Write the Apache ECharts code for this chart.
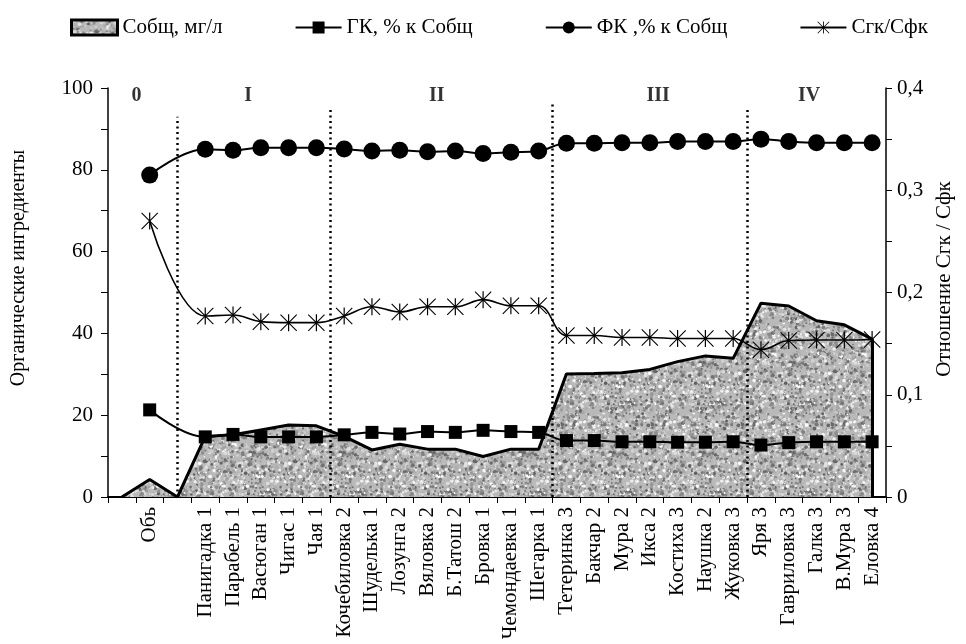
<!DOCTYPE html>
<html>
<head>
<meta charset="utf-8">
<script src="https://cdn.jsdelivr.net/npm/echarts@6/dist/echarts.min.js"></script>
<style>html,body{margin:0;padding:0;background:#fff}#chart{width:966px;height:644px}</style>
</head>
<body>
<div id="chart"></div>
<script>
// ---------- data ----------
const categories = ['', 'Обь', '', 'Панигадка 1', 'Парабель 1', 'Васюган 1', 'Чигас 1', 'Чая 1',
  'Кочебиловка 2', 'Шуделька 1', 'Лозунга 2', 'Вяловка 2', 'Б.Татош 2', 'Бровка 1', 'Чемондаевка 1', 'Шегарка 1',
  'Тетеринка 3', 'Бакчар 2', 'Мура 2', 'Икса 2', 'Костиха 3', 'Наушка 2', 'Жуковка 3',
  'Яря 3', 'Гавриловка 3', 'Галка 3', 'В.Мура 3', 'Еловка 4'];
const cTotal = [0, 4.3, 0, 14.8, 15.2, 16.4, 17.6, 17.4, 14.8, 11.5, 12.9, 11.7, 11.7, 9.9, 11.7, 11.7,
  30.1, 30.2, 30.4, 31.2, 33.1, 34.5, 33.9, 47.4, 46.7, 43.1, 42.1, 38.6];
const gkShare = [null, 21.3, null, 14.7, 15.3, 14.7, 14.7, 14.7, 15.2, 15.8, 15.4, 16.0, 15.8, 16.3, 16.0, 15.8,
  13.8, 13.8, 13.5, 13.5, 13.4, 13.4, 13.5, 12.7, 13.3, 13.5, 13.5, 13.5];
const fkShare = [null, 78.7, null, 85.0, 84.8, 85.4, 85.4, 85.4, 85.1, 84.6, 84.8, 84.4, 84.6, 84.0, 84.3, 84.6,
  86.5, 86.5, 86.6, 86.6, 86.9, 86.9, 86.9, 87.5, 86.9, 86.6, 86.6, 86.6];
const ratio = [null, 0.270, null, 0.177, 0.178, 0.1715, 0.1705, 0.1705, 0.177, 0.186, 0.181, 0.186, 0.186, 0.193, 0.187, 0.187,
  0.158, 0.158, 0.156, 0.156, 0.155, 0.155, 0.155, 0.144, 0.153, 0.1535, 0.1535, 0.154];
const seriesNames = ['Собщ, мг/л', 'ГК, % к Собщ', 'ФК ,% к Собщ', 'Сгк/Сфк'];
const sectionNames = ['0', 'I', 'II', 'III', 'IV'];
const sectionNameX = [1.03, 5.04, 11.83, 19.8, 25.23];
const sectionNameY = 98;
const dividerX = [2.5, 8, 16, 23];
const dividerTop = [93, 94.6, 96.3, 94.6];
const leftTitle = 'Органические ингредиенты';
const rightTitle = 'Отношение Сгк / Сфк';

// ---------- styling ----------
const FONT = '"Liberation Serif", "Times New Roman", serif';

// grainy grey fill texture (visual style only)
function makeTexture() {
  const size = 90;
  const c = document.createElement('canvas');
  c.width = size; c.height = size;
  const g = c.getContext('2d');
  g.fillStyle = '#b9b9b9';
  g.fillRect(0, 0, size, size);
  let s = 987654;
  const grain = () => { s = (s * 1103515245 + 12345) & 0x7fffffff; return s / 0x7fffffff; };
  for (let i = 0; i < 1400; i++) {
    const x = grain() * size, y = grain() * size, r = 0.5 + grain() * 1.5;
    const v = Math.floor(95 + grain() * 160);
    g.fillStyle = 'rgb(' + v + ',' + v + ',' + v + ')';
    for (const dx of [-size, 0, size]) for (const dy of [-size, 0, size]) {
      g.beginPath(); g.arc(x + dx, y + dy, r, 0, Math.PI * 2); g.fill();
    }
  }
  return c;
}
const texture = { image: makeTexture(), repeat: 'repeat' };

const starPath = 'path://M9.3,0L10.7,0L10.7,20L9.3,20Z M0,0.9L0.9,0L20,19.1L19.1,20Z M19.1,0L20,0.9L0.9,20L0,19.1Z';

const chart = echarts.init(document.getElementById('chart'), null, { renderer: 'canvas' });

const lastIdx = categories.length - 1;

const option = {
  animation: false,
  backgroundColor: '#fff',
  textStyle: { fontFamily: FONT, color: '#000' },
  grid: { left: 108, right: 80, top: 88, bottom: 147, containLabel: false },
  legend: {
    left: 65, top: 12,
    itemWidth: 46, itemHeight: 15, itemGap: 72,
    textStyle: { fontFamily: FONT, fontSize: 21, color: '#000' },
    data: [
      { name: seriesNames[0], icon: 'rect', itemStyle: { color: texture, borderColor: '#000', borderWidth: 3 } },
      seriesNames[1], seriesNames[2], seriesNames[3]
    ]
  },
  xAxis: [
    {
      type: 'category', data: categories, boundaryGap: true,
      axisLine: { lineStyle: { color: '#000', width: 2 } },
      axisTick: { show: true, inside: false, length: 6, lineStyle: { color: '#000', width: 1 } },
      axisLabel: { interval: 0, rotate: 90, color: '#000', fontFamily: FONT, fontSize: 21, margin: 10 },
      splitLine: { show: false }
    },
    { type: 'value', min: 0, max: categories.length, show: false, position: 'bottom' }
  ],
  yAxis: [
    {
      type: 'value', min: 0, max: 100, interval: 10, position: 'left',
      axisLine: { show: true, lineStyle: { color: '#000', width: 1.5 } },
      axisTick: { show: true, length: 7, lineStyle: { color: '#000' } },
      axisLabel: { color: '#000', fontFamily: FONT, fontSize: 21, margin: 15,
        formatter: v => (Math.round(v) % 20 === 0 ? String(Math.round(v)) : '') },
      splitLine: { show: false }
    },
    {
      type: 'value', min: 0, max: 0.4, interval: 0.05, position: 'right',
      axisLine: { show: true, lineStyle: { color: '#000', width: 1.5 } },
      axisTick: { show: true, length: 6, lineStyle: { color: '#000' } },
      axisLabel: { color: '#000', fontFamily: FONT, fontSize: 21, margin: 11,
        formatter: v => {
          const t = v * 10;
          if (Math.abs(t - Math.round(t)) > 1e-6) return '';
          return v === 0 ? '0' : (Math.round(t) / 10).toFixed(1).replace('.', ',');
        } },
      splitLine: { show: false }
    }
  ],
  graphic: [
    { type: 'text', x: 19, y: 268, rotation: Math.PI / 2,
      style: { text: leftTitle, font: '20px ' + FONT, fill: '#000', textAlign: 'center', textVerticalAlign: 'middle' } },
    { type: 'text', x: 944, y: 279, rotation: Math.PI / 2,
      style: { text: rightTitle, font: '21px ' + FONT, fill: '#000', textAlign: 'center', textVerticalAlign: 'middle' } }
  ],
  series: [
    {
      name: seriesNames[0], type: 'line', data: cTotal, xAxisIndex: 0, yAxisIndex: 0,
      symbol: 'none', smooth: false, z: 1,
      lineStyle: { color: '#000', width: 3 },
      itemStyle: { color: '#999' },
      areaStyle: { color: texture, opacity: 1 },
      markLine: {
        silent: true, symbol: 'none', label: { show: false },
        lineStyle: { color: '#000', width: 3, type: 'solid' },
        data: [[{ coord: [categories[lastIdx], 0] }, { coord: [categories[lastIdx], cTotal[lastIdx]] }]]
      }
    },
    {
      name: 'dividers', type: 'line', xAxisIndex: 1, yAxisIndex: 0, data: [], z: 2,
      markLine: {
        silent: true, symbol: 'none', label: { show: false },
        lineStyle: { color: '#000', width: 2.5, type: [2, 3.5] },
        data: dividerX.map((x, i) => [{ coord: [x, 0] }, { coord: [x, dividerTop[i]] }])
      }
    },
    {
      name: 'sections', type: 'scatter', xAxisIndex: 1, yAxisIndex: 0, symbolSize: 0, z: 5,
      data: sectionNames.map((n, i) => ({ name: n, value: [sectionNameX[i], sectionNameY] })),
      label: { show: true, position: 'inside', formatter: p => p.name, fontFamily: FONT, fontSize: 20, fontWeight: 'bold', color: '#000' }
    },
    {
      name: seriesNames[1], type: 'line', data: gkShare, yAxisIndex: 0, connectNulls: true, smooth: 0.4, z: 4,
      symbol: 'rect', symbolSize: 13,
      lineStyle: { color: '#000', width: 2 },
      itemStyle: { color: '#000' }
    },
    {
      name: seriesNames[2], type: 'line', data: fkShare, yAxisIndex: 0, connectNulls: true, smooth: 0.4, z: 4,
      symbol: 'circle', symbolSize: 17,
      lineStyle: { color: '#000', width: 2 },
      itemStyle: { color: '#000' }
    },
    {
      name: seriesNames[3], type: 'line', data: ratio, yAxisIndex: 1, connectNulls: true, smooth: 0.4, z: 4,
      symbol: starPath, symbolSize: 17,
      lineStyle: { color: '#000', width: 1.6 },
      itemStyle: { color: '#000' }
    }
  ]
};
chart.setOption(option);
</script>
</body>
</html>
